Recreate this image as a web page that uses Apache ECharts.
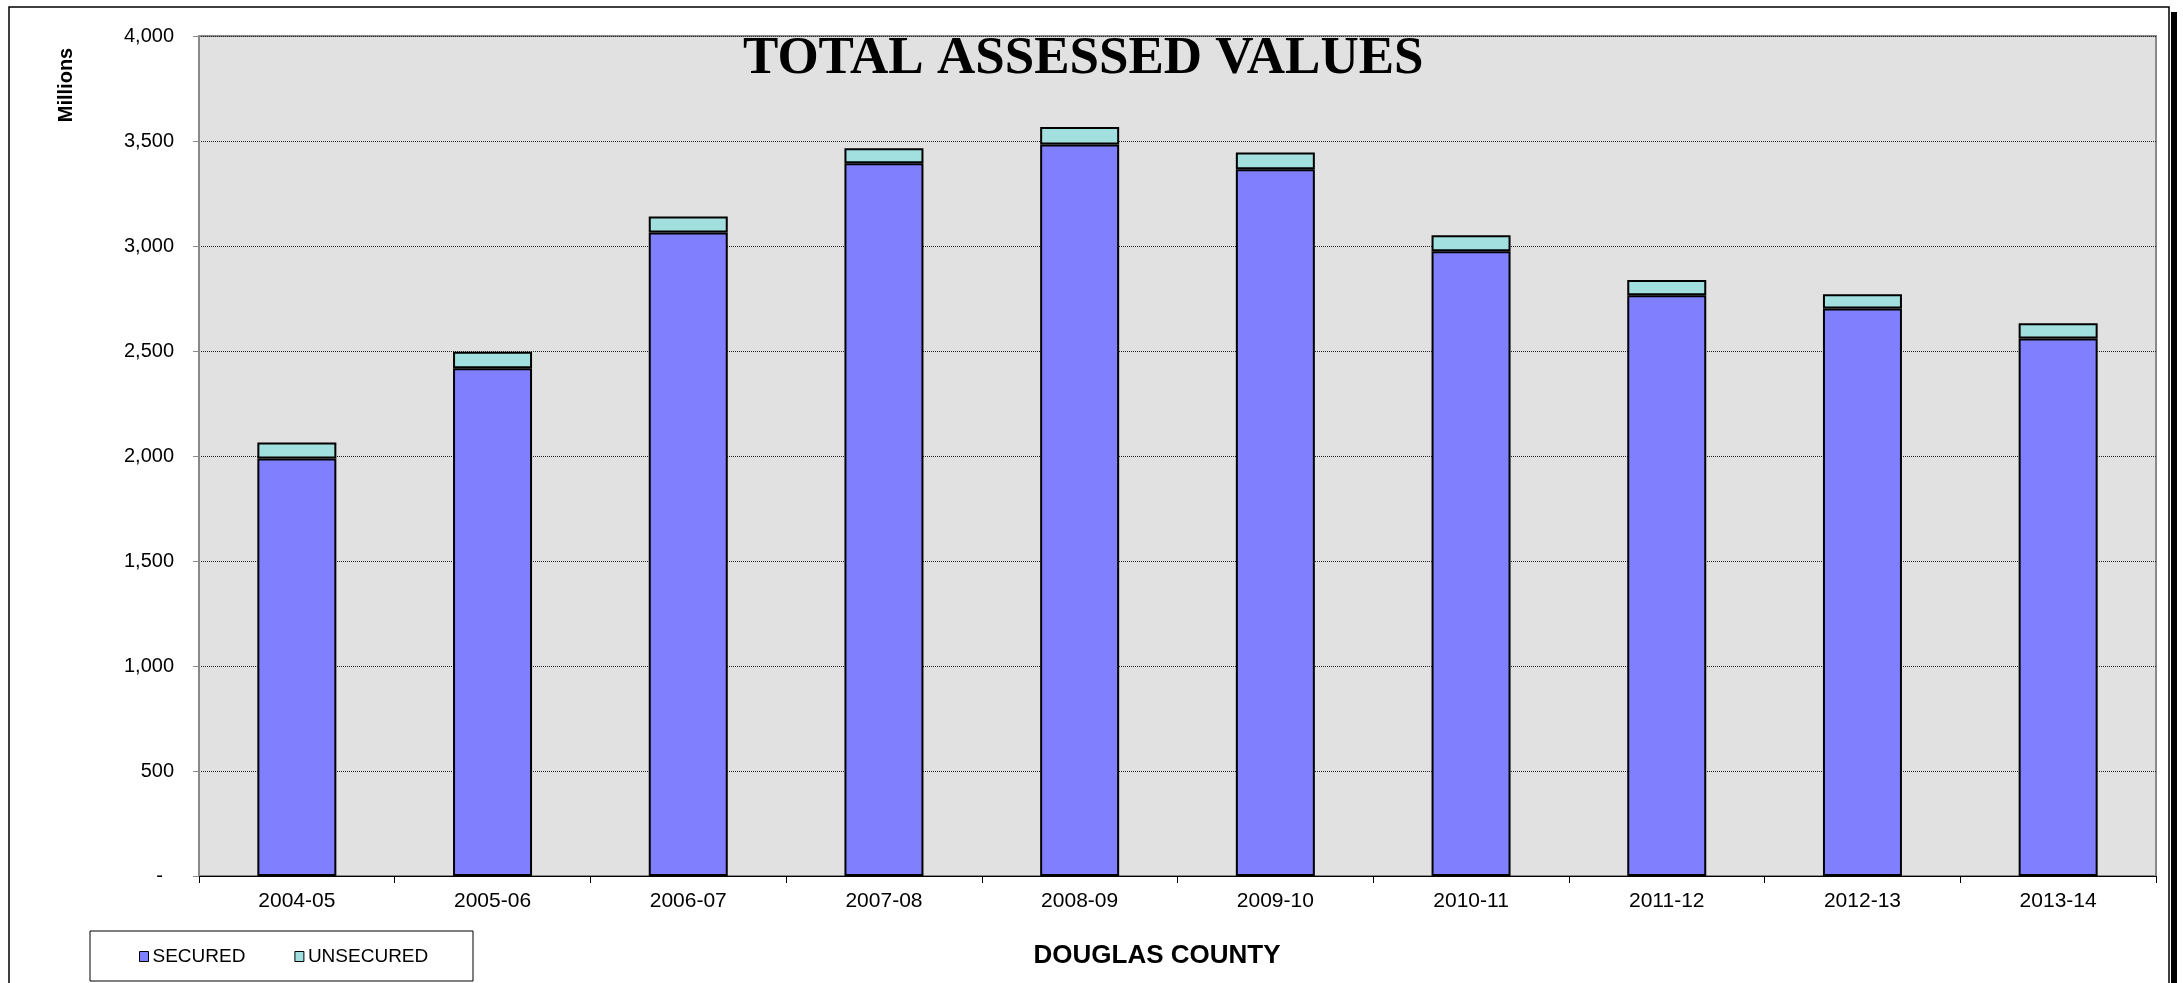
<!DOCTYPE html>
<html>
<head>
<meta charset="utf-8">
<script src="https://cdn.jsdelivr.net/npm/echarts@6.0.0/dist/echarts.min.js"></script>
<style>
  html, body { margin: 0; padding: 0; background: #ffffff; }
  #main { width: 2183px; height: 983px; }
</style>
</head>
<body>
<div id="main"></div>
<script>
// fiscal years on the x axis
var years = ["2004-05", "2005-06", "2006-07", "2007-08", "2008-09",
             "2009-10", "2010-11", "2011-12", "2012-13", "2013-14"];
// values in millions
var secured = [1988, 2418, 3064, 3394, 3483, 3365, 2975, 2765, 2702, 2559];
var unsecured = [76, 79, 76, 71, 84, 80, 76, 73, 68, 73];
// y axis ticks
var yMin = 0;
var yMax = 4000;
var yStep = 500;

var myChart = echarts.init(document.getElementById("main"));
myChart.setOption({
  animation: false,
  backgroundColor: "#ffffff",
  textStyle: { fontFamily: "Liberation Sans, Arial, sans-serif" },
  title: {
    text: "TOTAL ASSESSED VALUES",
    left: 743,
    top: 33,
    padding: 0,
    textStyle: {
      fontFamily: "Liberation Serif, Times New Roman, serif",
      fontWeight: "bold",
      fontSize: 53,
      color: "#000000",
    },
    z: 10,
  },
  legend: {
    data: ["SECURED", "UNSECURED"],
    left: 139,
    top: 947,
    padding: 0,
    itemWidth: 9,
    itemHeight: 10,
    itemGap: 49,
    icon: "rect",
    itemStyle: { borderWidth: 1, borderColor: "#000000" },
    textStyle: { fontSize: 19, color: "#000000", padding: [0, 0, 0, -1] },
  },
  grid: {
    left: 199,
    top: 36,
    right: 27,
    bottom: 107,
    show: true,
    backgroundColor: "#e1e1e1",
    borderColor: "#8a8a8a",
    borderWidth: 2,
  },
  xAxis: {
    type: "category",
    data: years,
    axisLine: { show: true, lineStyle: { color: "#000000", width: 1 } },
    axisTick: { show: true, length: 7, lineStyle: { color: "#000000" } },
    axisLabel: { fontSize: 21, color: "#000000", margin: 15 },
    splitLine: { show: false },
  },
  yAxis: {
    type: "value",
    min: yMin,
    max: yMax,
    interval: yStep,
    axisLine: { show: true, lineStyle: { color: "#8a8a8a", width: 2 } },
    axisTick: { show: true, length: 6, lineStyle: { color: "#8a8a8a" } },
    axisLabel: {
      fontSize: 20,
      color: "#000000",
      margin: 25,
      formatter: function (v) {
        if (v === 0) return "-  ";
        return v.toLocaleString("en-US");
      },
    },
    splitLine: {
      show: true,
      lineStyle: { color: "#222222", width: 1, type: [1, 1] },
    },
  },
  series: [
    {
      name: "SECURED",
      type: "bar",
      stack: "total",
      barWidth: 79,
      data: secured,
      itemStyle: { color: "#8080ff", borderColor: "#000000", borderWidth: 2 },
    },
    {
      name: "UNSECURED",
      type: "bar",
      stack: "total",
      barWidth: 79,
      data: unsecured,
      itemStyle: { color: "#a2e0e0", borderColor: "#000000", borderWidth: 2 },
    },
  ],
  graphic: [
    // outer frame of the chart
    {
      type: "rect",
      shape: { x: 9, y: 7, width: 2160, height: 1000 },
      style: { fill: null, stroke: "#000000", lineWidth: 1.5 },
      silent: true,
    },
    // shadow on the right edge
    {
      type: "rect",
      shape: { x: 2171, y: 12, width: 6, height: 980 },
      style: { fill: "#000000" },
      silent: true,
    },
    // legend box
    {
      type: "rect",
      shape: { x: 90, y: 931, width: 383, height: 50 },
      style: { fill: null, stroke: "#000000", lineWidth: 1 },
      silent: true,
    },
    {
      type: "text",
      x: 66,
      y: 85,
      rotation: Math.PI / 2,
      style: {
        text: "Millions",
        fontSize: 20,
        fontWeight: "bold",
        fontFamily: "Liberation Sans, Arial, sans-serif",
        fill: "#000000",
        align: "center",
        verticalAlign: "middle",
      },
    },
    {
      type: "text",
      x: 1157,
      y: 956,
      style: {
        text: "DOUGLAS COUNTY",
        fontSize: 26,
        fontWeight: "bold",
        fontFamily: "Liberation Sans, Arial, sans-serif",
        fill: "#000000",
        align: "center",
        verticalAlign: "middle",
      },
    },
  ],
});
</script>
</body>
</html>
